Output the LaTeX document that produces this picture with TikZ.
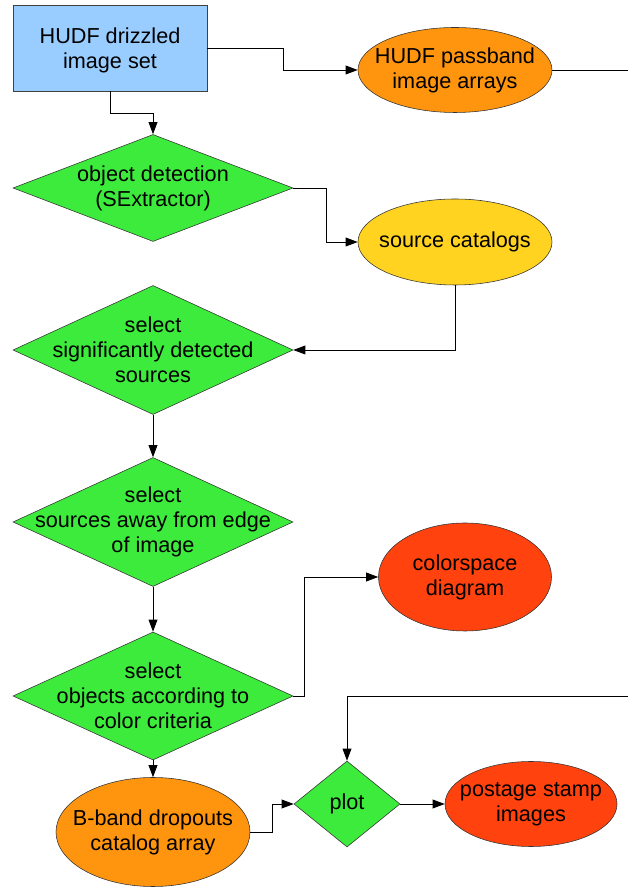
\documentclass[tikz,border=0pt]{standalone}
\usepackage{fontspec}
\setmainfont{Liberation Sans}
\usetikzlibrary{shapes.geometric, arrows.meta}

\definecolor{azul}{HTML}{99CCFF}
\definecolor{laranja}{HTML}{FF950E}
\definecolor{amarelo}{HTML}{FFD320}
\definecolor{verde}{HTML}{3DEB3D}
\definecolor{vermelho}{HTML}{FF420E}

\begin{document}
\begin{tikzpicture}[every node/.style={font=\fontsize{15.4}{17.9}\selectfont, align=center, inner sep=0pt},
    caixa/.style={rectangle, draw=black!75, fill=azul, minimum width=4.85cm, minimum height=2.15cm},
    oval/.style={ellipse, draw=black!80},
    losango/.style={diamond, draw=black!80, fill=verde, minimum width=7cm, minimum height=3.225cm},
    seta/.style={-{Triangle[length=3mm, width=2.2mm]}, line width=0.6pt},
    linha/.style={line width=0.6pt}]

        \useasboundingbox (0,0) rectangle (15.7,22.2);

        % Caixa e ovais
        \node[caixa] (hudf) at (2.75,21.0) {};
        \node (hudf-t) at (2.75,20.93) {HUDF drizzled\\image set};
        \node[oval, fill=laranja, minimum width=4.85cm, minimum height=2.125cm] (pass) at (11.375,20.45) {};
        \node (pass-t) at (pass) {HUDF passband\\image arrays};
        \node[oval, fill=amarelo, minimum width=4.85cm, minimum height=2.15cm] (cat) at (11.375,16.15) {};
        \node (cat-t) at (cat) {source catalogs};
        \node[oval, fill=vermelho, minimum width=4.325cm, minimum height=2.7cm] (cspace) at (11.625,7.775) {};
        \node (cspace-t) at (cspace) {colorspace\\diagram};
        \node[oval, fill=laranja, minimum width=4.85cm, minimum height=2.725cm] (bband) at (3.825,1.4) {};
        \node (bband-t) at (bband) {B-band dropouts\\catalog array};
        \node[oval, fill=vermelho, minimum width=4.3cm, minimum height=2.125cm] (stamp) at (13.275,2.1) {};
        \node (stamp-t) at (stamp) {postage stamp\\images};

        % Losangos
        \node[losango, minimum height=2.675cm] (det) at (3.825,17.5) {};
        \node (det-t) at (det) {object detection\\(SExtractor)};
        \node[losango] (sig) at (3.825,13.45) {};
        \node (sig-t) at (sig) {select\\significantly detected\\sources};
        \node[losango] (edge) at (3.825,9.15) {};
        \node (edge-t) at (edge) {select\\sources away from edge\\of image};
        \node[losango, minimum height=3.2cm] (crit) at (3.825,4.8) {};
        \node (crit-t) at (crit) {select\\objects according to\\color criteria};
        \node[losango, minimum width=2.65cm, minimum height=2.15cm] (plot) at (8.675,2.1) {};
        \node (plot-t) at (plot) {plot};

        % Pontas soltas na margem direita
        \coordinate (saidaA) at (15.7,20.45);
        \coordinate (saidaB) at (15.7,4.8);

        % Conexoes
        \draw[seta] (hudf.east) -- ++(1.9,0) |- (pass.west);
        \draw[seta] (hudf.south) -- ++(0,-0.55) -| (det.north);
        \draw[linha] (pass.east) -- (saidaA);
        \draw[seta] (det.east) -- ++(0.825,0) |- (cat.west);
        \draw[seta] (cat.south) |- (sig.east);
        \draw[seta] (sig.south) -- (edge.north);
        \draw[seta] (edge.south) -- (crit.north);
        \draw[seta] (crit.east) -- ++(0.275,0) |- (cspace.west);
        \draw[seta] (crit.south) -- (bband.north);
        \draw[seta] (bband.east) -- ++(0.55,0) |- (plot.west);
        \draw[seta] (plot.east) -- (stamp.west);
        \draw[seta] (saidaB) -| (plot.north);

    \end{tikzpicture}
\end{document}
